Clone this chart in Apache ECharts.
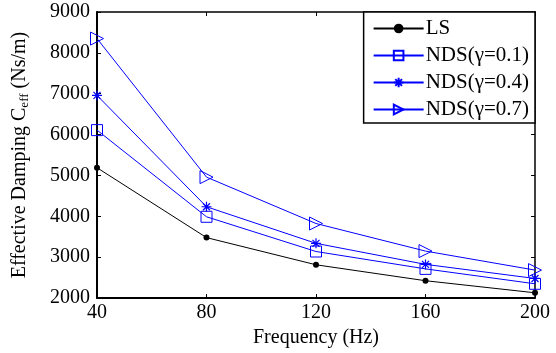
<!DOCTYPE html>
<html><head><meta charset="utf-8">
<script src="https://cdn.jsdelivr.net/npm/echarts@6/dist/echarts.min.js"></script>
<style>html,body{margin:0;padding:0;background:#fff}#c{width:556px;height:353px}</style>
</head><body><div id="c"></div>
<script>
const categories = [40, 80, 120, 160, 200];
const lsValues = [5190, 3480, 2815, 2425, 2130];
const nds01Values = [6110, 3990, 3140, 2715, 2350];
const nds04Values = [6960, 4235, 3340, 2825, 2480];
const nds07Values = [8350, 4960, 3825, 3150, 2685];
const seriesNames = ['LS', 'NDS(γ=0.1)', 'NDS(γ=0.4)', 'NDS(γ=0.7)'];
const yTicks = [2000, 3000, 4000, 5000, 6000, 7000, 8000, 9000];

const font = '"Liberation Serif", "Times New Roman", serif';
const blue = '#0000ff';
const star = 'path://M0,-10L0,10M-10,0L10,0M-7,-7L7,7M-7,7L7,-7';
const tri = 'path://M0,0L17,10L0,20Z';

const chart = echarts.init(document.getElementById('c'));
function mk(name, vals, color, symbol, size, fill, bw) {
  return {
    name: name, type: 'line', xAxisIndex: 0, yAxisIndex: 0,
    data: categories.map((c, i) => [c, vals[i]]),
    symbol: symbol, symbolSize: size, showSymbol: true,
    lineStyle: { color: color, width: 1 },
    itemStyle: { color: fill, borderColor: color, borderWidth: bw },
    emphasis: { disabled: true }, animation: false, z: 3
  };
}
chart.setOption({
  animation: false,
  grid: { left: 97, right: 21, top: 12, bottom: 51, show: false },
  legend: {
    right: 21, top: 12, orient: 'vertical', align: 'left',
    backgroundColor: '#fff', borderColor: '#000', borderWidth: 1.5, borderRadius: 0,
    padding: [6, 6, 3, 9], itemWidth: 50, itemHeight: 12, itemGap: 6,
    textStyle: { fontFamily: font, fontSize: 21, color: '#000', padding: [0, 0, 0, -3] },
    data: seriesNames
  },
  xAxis: [{
    type: 'value', min: 40, max: 200, interval: 40, position: 'bottom',
    name: 'Frequency (Hz)', nameLocation: 'middle', nameGap: 25,
    nameTextStyle: { fontFamily: font, fontSize: 20, color: '#000' },
    axisLine: { lineStyle: { color: '#000', width: 2 } },
    axisTick: { inside: true, length: 4, lineStyle: { color: '#000' } },
    axisLabel: { fontFamily: font, fontSize: 20, color: '#000', margin: 5,
      formatter: v => String(v) },
    splitLine: { show: false }
  }, {
    type: 'value', min: 40, max: 200, interval: 40, position: 'top',
    axisLine: { lineStyle: { color: '#000', width: 1.5 } },
    axisTick: { inside: true, length: 4, lineStyle: { color: '#000' } },
    axisLabel: { show: false }, splitLine: { show: false }
  }],
  yAxis: [{
    type: 'value', min: 2000, max: 9000, interval: 1000, position: 'left',
    name: '{a|Effective Damping C}{s|eff}{a| (Ns/m)}', nameLocation: 'middle', nameGap: 66,
    nameRotate: 90,
    nameTextStyle: { fontFamily: font, color: '#000',
      rich: { a: { fontFamily: font, fontSize: 20, color: '#000' },
              s: { fontFamily: font, fontSize: 13, color: '#000', verticalAlign: 'bottom', padding: [10, 0, 0, 0] } } },
    axisLine: { lineStyle: { color: '#000', width: 2 } },
    axisTick: { inside: true, length: 4, lineStyle: { color: '#000' } },
    axisLabel: { fontFamily: font, fontSize: 20, color: '#000', margin: 7,
      formatter: v => String(v) },
    splitLine: { show: false }
  }, {
    type: 'value', min: 2000, max: 9000, interval: 1000, position: 'right',
    axisLine: { lineStyle: { color: '#000', width: 1.5 } },
    axisTick: { inside: true, length: 4, lineStyle: { color: '#000' } },
    axisLabel: { show: false }, splitLine: { show: false }
  }],
  series: [
    mk(seriesNames[0], lsValues, '#000', 'circle', 6, '#000', 0),
    mk(seriesNames[1], nds01Values, blue, 'rect', 11, 'rgba(255,255,255,0)', 1),
    mk(seriesNames[2], nds04Values, blue, star, 10, blue, 1.2),
    mk(seriesNames[3], nds07Values, blue, tri, 13, 'rgba(255,255,255,0)', 1)
  ]
});
</script></body></html>
